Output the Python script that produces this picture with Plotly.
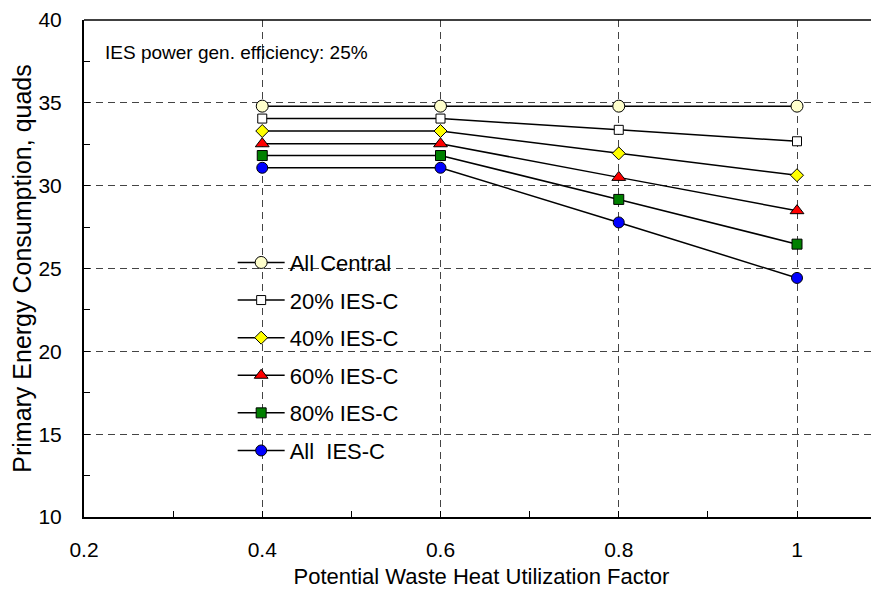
import plotly.graph_objects as go

x_vals = [0.4, 0.6, 0.8, 1.0]
series_names = ["All Central", "20% IES-C", "40% IES-C", "60% IES-C", "80% IES-C", "All  IES-C"]
all_central = [34.8, 34.8, 34.8, 34.8]
ies_20 = [34.05, 34.05, 33.37, 32.68]
ies_40 = [33.3, 33.3, 31.95, 30.63]
ies_60 = [32.53, 32.53, 30.5, 28.49]
ies_80 = [31.82, 31.82, 29.17, 26.47]
ies_all = [31.08, 31.08, 27.78, 24.43]
series_values = [all_central, ies_20, ies_40, ies_60, ies_80, ies_all]
x_tick_vals = [0.2, 0.4, 0.6, 0.8, 1.0]
x_tick_text = ["0.2", "0.4", "0.6", "0.8", "1"]
y_tick_vals = [10, 15, 20, 25, 30, 35, 40]

styles = [
    dict(symbol="circle", color="#FFFFCC", size=12),
    dict(symbol="square", color="#FFFFFF", size=9),
    dict(symbol="diamond", color="#FFFF00", size=10),
    dict(symbol="triangle-up", color="#FF0000", size=12),
    dict(symbol="square", color="#008000", size=10),
    dict(symbol="circle", color="#0000FF", size=11),
]

FONT = "Liberation Sans, Arial, sans-serif"

fig = go.Figure()
for i, (name, vals, st) in enumerate(zip(series_names, series_values, styles)):
    fig.add_trace(go.Scatter(
        x=x_vals, y=vals, name=name, mode="lines+markers",
        legendgroup=f"g{i}",
        line=dict(color="black", width=1.5),
        marker=dict(symbol=st["symbol"], color=st["color"], size=st["size"],
                    line=dict(color="black", width=1)),
    ))

# white box behind the legend (covers gridlines)
fig.add_shape(type="rect", xref="paper", yref="paper",
              x0=0.121, x1=0.479, y0=0.104, y1=0.557,
              fillcolor="white", line=dict(width=0), layer="between")
# top border line
fig.add_shape(type="line", xref="paper", yref="paper",
              x0=0, x1=1, y0=1, y1=1, line=dict(color="black", width=1.5))

fig.add_annotation(text="IES power gen. efficiency: 25%", xref="paper", yref="paper",
                   x=0.024, y=0.935, xanchor="left", yanchor="middle", showarrow=False,
                   font=dict(family=FONT, size=19, color="black"))

fig.update_layout(
    width=871, height=584,
    margin=dict(l=76, r=0, t=7, b=75),
    paper_bgcolor="white", plot_bgcolor="white",
    font=dict(family=FONT, size=21, color="black"),
    showlegend=True,
    legend=dict(x=0.187, y=0.554, xanchor="left", yanchor="top",
                bgcolor="rgba(0,0,0,0)", font=dict(family=FONT, size=22, color="black"),
                tracegroupgap=6, itemwidth=47),
)
fig.update_xaxes(
    range=[0.2, 1.092], tickvals=x_tick_vals, ticktext=x_tick_text,
    showline=True, linecolor="black", linewidth=2,
    ticks="inside", ticklen=6, tickcolor="black",
    minor=dict(tickvals=[0.3, 0.5, 0.7, 0.9], ticks="inside", ticklen=6, tickcolor="black", showgrid=False),
    showgrid=True, gridcolor="#444444", gridwidth=1, griddash="7px,5px",
    zeroline=False, ticklabelstandoff=13, ticklabeloverflow="allow",
    tickfont=dict(family=FONT, size=21),
    title=dict(text="Potential Waste Heat Utilization Factor", standoff=8,
               font=dict(family=FONT, size=22)),
)
fig.update_yaxes(
    range=[10, 40], tickvals=y_tick_vals,
    showline=True, linecolor="black", linewidth=2,
    ticks="inside", ticklen=6, tickcolor="black",
    minor=dict(tickvals=[12.5, 17.5, 22.5, 27.5, 32.5, 37.5], ticks="inside", ticklen=6, tickcolor="black", showgrid=False),
    showgrid=True, gridcolor="#444444", gridwidth=1, griddash="7px,5px",
    zeroline=False, ticklabelstandoff=16, ticklabeloverflow="allow",
    tickfont=dict(family=FONT, size=21),
    title=dict(text="Primary Energy Consumption, quads", standoff=6,
               font=dict(family=FONT, size=25)),
)

fig.write_html("out.html")
